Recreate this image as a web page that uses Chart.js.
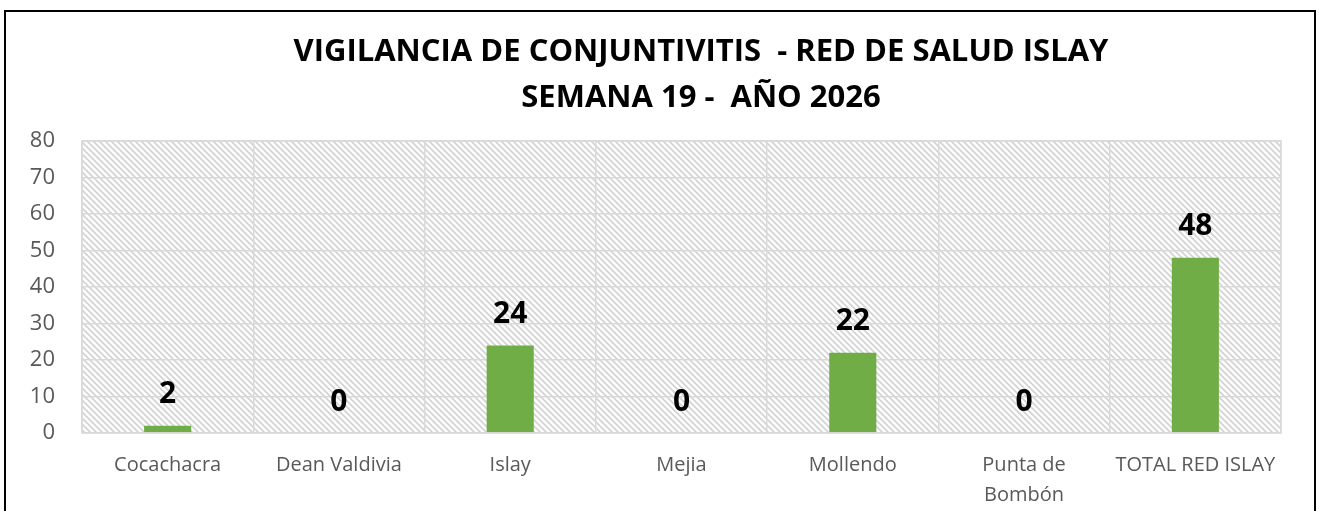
<!DOCTYPE html>
<html>
<head>
<meta charset="utf-8">
<script src="https://cdn.jsdelivr.net/npm/chart.js@4/dist/chart.umd.min.js"></script>
<style>
html,body{margin:0;padding:0;background:#fff;}
#wrap{position:relative;width:1319px;height:511px;}
</style>
</head>
<body>
<div id="wrap"><canvas id="c" width="1319" height="511"></canvas></div>
<script>
const categories = ["Cocachacra", "Dean Valdivia", "Islay", "Mejia", "Mollendo", ["Punta de", "Bombón"], "TOTAL RED ISLAY"];
const casos = [2, 0, 24, 0, 22, 0, 48];
const yTicks = [0, 10, 20, 30, 40, 50, 60, 70, 80];
const titleLines = ["VIGILANCIA DE CONJUNTIVITIS  - RED DE SALUD ISLAY", "SEMANA 19 -  AÑO 2026"];

function makePattern(ctx){
  const p = document.createElement('canvas');
  p.width = 6; p.height = 6;
  const pc = p.getContext('2d');
  pc.fillStyle = '#ffffff';
  pc.fillRect(0,0,6,6);
  pc.strokeStyle = '#d2d2d2';
  pc.lineWidth = 1.6;
  pc.beginPath();
  pc.moveTo(-2,-2); pc.lineTo(8,8);
  pc.moveTo(-8,-2); pc.lineTo(2,8);
  pc.moveTo(4,-2); pc.lineTo(14,8);
  pc.stroke();
  return ctx.createPattern(p,'repeat');
}

const decor = {
  id: 'decor',
  beforeDraw(chart){
    const ctx = chart.ctx, a = chart.chartArea;
    ctx.save();
    ctx.fillStyle = '#fff';
    ctx.fillRect(0,0,chart.width,chart.height);
    ctx.fillStyle = makePattern(ctx);
    ctx.fillRect(a.left, a.top, a.right-a.left, a.bottom-a.top);
    ctx.restore();
  },
  afterDatasetsDraw(chart){
    const ctx = chart.ctx;
    const meta = chart.getDatasetMeta(0);
    ctx.save();
    ctx.fillStyle = '#000';
    ctx.font = 'bold 30px "Open Sans"';
    ctx.textAlign = 'center';
    ctx.textBaseline = 'middle';
    meta.data.forEach((bar, i) => {
      ctx.fillText(String(casos[i]), bar.x, bar.y - 31);
    });
    ctx.restore();
  },
  afterDraw(chart){
    const ctx = chart.ctx, a = chart.chartArea;
    ctx.save();
    ctx.strokeStyle = '#d9d9d9';
    ctx.lineWidth = 1.5;
    ctx.strokeRect(a.left, a.top, a.right-a.left, a.bottom-a.top);
    ctx.fillStyle = '#000';
    ctx.font = 'bold 31px "Open Sans"';
    ctx.textAlign = 'center';
    ctx.textBaseline = 'middle';
    ctx.fillText(titleLines[0], 701, 52);
    ctx.fillText(titleLines[1], 701, 98);
    ctx.strokeStyle = '#000';
    ctx.lineWidth = 2;
    ctx.strokeRect(5, 11, 1310, 540);
    ctx.restore();
  }
};

new Chart(document.getElementById('c'), {
  type: 'bar',
  data: {
    labels: categories,
    datasets: [{
      data: casos,
      backgroundColor: '#70ad47',
      borderWidth: 0,
      barPercentage: 0.275,
      categoryPercentage: 1.0
    }]
  },
  options: {
    responsive: false,
    animation: false,
    devicePixelRatio: 1,
    layout: { padding: { left: 0, right: 38, top: 141, bottom: 0 } },
    plugins: { legend: { display: false }, title: { display: false }, tooltip: { enabled: false } },
    scales: {
      x: {
        grid: { color: '#d9d9d9', lineWidth: 1.5, drawTicks: false, offset: true },
        border: { display: false },
        ticks: { color: '#595959', font: { family: 'Open Sans', size: 20, lineHeight: 1.5 }, padding: 17, maxRotation: 0, autoSkip: false },
        afterFit(s){ s.height = 78; }
      },
      y: {
        min: 0, max: 80,
        afterBuildTicks(s){ s.ticks = yTicks.map(v => ({ value: v })); },
        grid: { color: '#d9d9d9', lineWidth: 1.5, drawTicks: false },
        border: { display: false },
        ticks: { color: '#595959', font: { family: 'Open Sans', size: 22 }, padding: 27 },
        afterFit(s){ s.width = 82; }
      }
    }
  },
  plugins: [decor]
});
</script>
</body>
</html>
